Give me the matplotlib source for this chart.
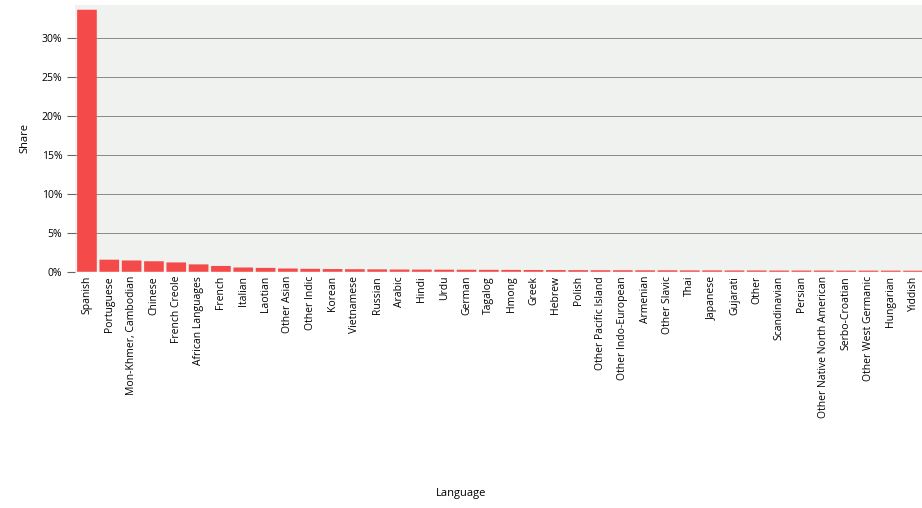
import matplotlib
matplotlib.use("Agg")
import matplotlib.pyplot as plt
from matplotlib.ticker import FuncFormatter

languages = [
    "Spanish", "Portuguese", "Mon-Khmer, Cambodian", "Chinese", "French Creole",
    "African Languages", "French", "Italian", "Laotian", "Other Asian",
    "Other Indic", "Korean", "Vietnamese", "Russian", "Arabic", "Hindi", "Urdu",
    "German", "Tagalog", "Hmong", "Greek", "Hebrew", "Polish",
    "Other Pacific Island", "Other Indo-European", "Armenian", "Other Slavic",
    "Thai", "Japanese", "Gujarati", "Other", "Scandinavian", "Persian",
    "Other Native North American", "Serbo-Croatian", "Other West Germanic",
    "Hungarian", "Yiddish",
]
share = [
    33.6, 1.55, 1.45, 1.35, 1.2, 0.95, 0.75, 0.55, 0.5, 0.42,
    0.38, 0.35, 0.33, 0.31, 0.29, 0.28, 0.27, 0.26, 0.25, 0.24,
    0.23, 0.22, 0.21, 0.2, 0.2, 0.19, 0.19, 0.18, 0.18, 0.17,
    0.17, 0.16, 0.16, 0.16, 0.15, 0.15, 0.15, 0.14,
]
yticks = [0, 5, 10, 15, 20, 25, 30]

plt.rcParams['font.family'] = ['Open Sans', 'DejaVu Sans']

fig = plt.figure(figsize=(9.22, 5.08), dpi=100)
ax = fig.add_axes([0.081, 0.465, 0.919, 0.525])
ax.set_facecolor('#f0f2ef')

x = list(range(len(languages)))
# snap off so the very thin bars at the tail still show up
ax.bar(x, share, width=0.88, color='#f44a4a', zorder=3, snap=False)

ax.set_xlim(-0.55, 37.4)
ax.set_ylim(0, 34.2)
ax.set_yticks(yticks)
ax.yaxis.set_major_formatter(FuncFormatter(lambda v, p: '%d%%' % v))
ax.grid(axis='y', color='#7a7a7a', linewidth=0.6, zorder=1)
ax.set_xticks(x)
ax.set_xticklabels(languages, rotation=90, fontsize=7.5)
ax.tick_params(axis='y', labelsize=7.5, length=6, color='#666666', pad=3)
ax.tick_params(axis='x', length=0, pad=3)
for s in ax.spines.values():
    s.set_visible(False)

ax.set_ylabel('Share', fontsize=8, labelpad=8)
fig.text(0.50, 0.018, 'Language', fontsize=8, ha='center', va='bottom')

fig.savefig('out.png', dpi=100, facecolor='white')
